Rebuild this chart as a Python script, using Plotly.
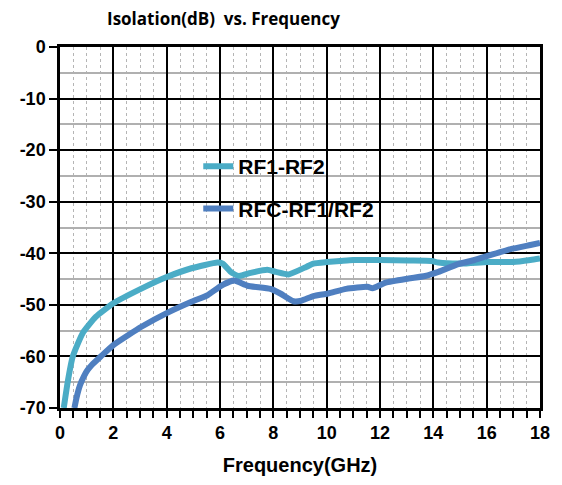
import plotly.graph_objects as go

# RF1-RF2 isolation
f_rf12 = [0.14, 0.30, 0.48, 0.85, 1.35, 2.0, 3.07, 4.0, 4.93, 5.9, 6.1, 6.4, 6.7, 7.15, 7.77, 8.1, 8.57,
          9.25, 9.5, 10.0, 10.5, 11.0, 12.0, 13.07, 13.94, 14.19, 15.05, 16.04, 17.0, 17.64, 18.0]
iso_rf12 = [-70.0, -64.6, -60.0, -55.5, -52.3, -49.7, -46.8, -44.6, -42.9, -41.8, -42.0, -43.6, -44.4, -43.8, -43.2, -43.6, -44.1,
            -42.6, -42.0, -41.7, -41.5, -41.3, -41.3, -41.4, -41.5, -41.8, -42.0, -41.7, -41.7, -41.3, -41.0]

# RFC-RF1/RF2 isolation
f_rfc = [0.54, 0.62, 0.75, 0.9, 1.04, 1.2, 1.53, 2.0, 2.58, 3.07, 4.0, 4.93, 5.54, 6.04, 6.53, 7.03, 7.89, 8.26, 8.75, 9.05,
         9.5, 10.05, 10.73, 11.53, 11.72, 12.21, 13.07, 13.69, 14.19, 14.93, 15.54, 16.04, 16.9, 17.64, 18.0]
iso_rfc = [-70.0, -68.0, -65.6, -63.8, -62.6, -61.6, -60.0, -57.8, -55.8, -54.2, -51.6, -49.4, -48.1, -46.3, -45.3, -46.3, -46.9, -47.8, -49.3, -49.2,
           -48.3, -47.8, -46.9, -46.5, -46.8, -45.7, -44.9, -44.4, -43.6, -42.1, -41.3, -40.5, -39.2, -38.4, -38.0]

series_names = ["RF1-RF2", "RFC-RF1/RF2"]
series_colors = ["#4BACC6", "#4F7FC0"]

x_ticks = [0, 2, 4, 6, 8, 10, 12, 14, 16, 18]
y_ticks = [0, -10, -20, -30, -40, -50, -60, -70]

fig = go.Figure()
fig.add_trace(go.Scatter(x=f_rf12, y=iso_rf12, mode="lines", name="<b>" + series_names[0] + "</b>",
                         line=dict(color=series_colors[0], width=6, shape="spline", smoothing=0.5),
                         legendgroup="a"))
fig.add_trace(go.Scatter(x=f_rfc, y=iso_rfc, mode="lines", name="<b>" + series_names[1] + "</b>",
                         line=dict(color=series_colors[1], width=6, shape="spline", smoothing=0.5),
                         legendgroup="b"))

# page has an 8px body margin; figure coords = page coords - 8
OFF = 8
W, H = 562 - OFF, 485 - OFF
ml, mr, mt, mb = 58 - OFF, 18, 47 - OFF, 77
pw, ph = W - ml - mr, H - mt - mb

def px_x(p):
    return (p - OFF - ml) / pw

def px_y(p):
    return 1 - (p - OFF - mt) / ph

# white legend panel covering the grid
fig.add_shape(type="rect", xref="paper", yref="paper", layer="between",
              x0=px_x(166), x1=px_x(395), y0=px_y(230), y1=px_y(135),
              fillcolor="white", line=dict(width=0))

tickfont = dict(family="Liberation Sans, Arial", size=18, color="black", weight="bold")

fig.update_layout(
    width=W, height=H,
    margin=dict(l=ml, r=mr, t=mt, b=mb),
    paper_bgcolor="white", plot_bgcolor="white",
    title=dict(text="<b>Isolation(dB)  vs. Frequency</b>", x=(107 - OFF) / W, xanchor="left",
               y=1 - (19 - OFF) / H, yanchor="middle",
               font=dict(family="Open Sans, Lato, Liberation Sans", size=17, color="black")),
    showlegend=True,
    legend=dict(x=px_x(198), y=px_y(146), xanchor="left", yanchor="top",
                bgcolor="rgba(255,255,255,0)", borderwidth=0,
                font=dict(family="Liberation Sans, Arial", size=21, color="black"),
                tracegroupgap=12, itemwidth=30),
    xaxis=dict(range=[0, 18], tickvals=x_ticks, ticktext=[str(v) for v in x_ticks],
               showline=True, linecolor="black", linewidth=2.5, mirror=True,
               showgrid=True, gridcolor="black", gridwidth=2,
               ticks="outside", ticklen=7, tickwidth=2, tickcolor="black",
               tickfont=tickfont, zeroline=False,
               minor=dict(dtick=0.5, showgrid=True, gridcolor="#b5b5b5", griddash="dot", gridwidth=1.2,
                          ticks="outside", ticklen=7, tickwidth=2, tickcolor="black"),
               title=dict(text="<b>Frequency(GHz)</b>", standoff=16,
                          font=dict(family="Liberation Sans, Arial", size=20, color="black"))),
    yaxis=dict(range=[-70, 0], tickvals=y_ticks, ticktext=[str(v) for v in y_ticks],
               showline=True, linecolor="black", linewidth=2.5, mirror=True,
               showgrid=True, gridcolor="black", gridwidth=2,
               ticks="outside", ticklen=8, tickwidth=2, tickcolor="black",
               tickfont=tickfont, zeroline=False,
               minor=dict(dtick=5, showgrid=True, gridcolor="#b0b0b0", gridwidth=1.5, ticks="")),
)

fig.write_html("out.html")
